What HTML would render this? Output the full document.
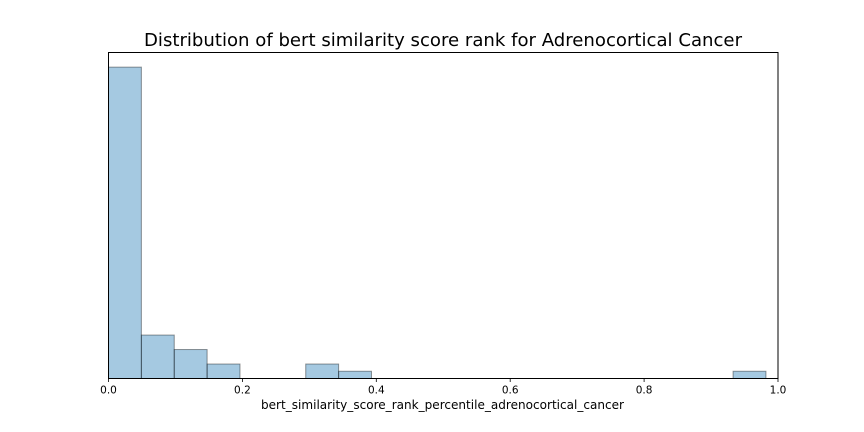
<!DOCTYPE html>
<html>
<head>
<meta charset="utf-8">
<style>
html,body{margin:0;padding:0;background:#fff;width:864px;height:432px;overflow:hidden}
svg{display:block;font-family:"DejaVu Sans",sans-serif}
</style>
</head>
<body>
<svg id="chart" width="864" height="432" viewBox="0 0 864 432" xmlns="http://www.w3.org/2000/svg">
<rect width="864" height="432" fill="#fff"/>
<text x="144" y="46" font-size="18" textLength="598" lengthAdjust="spacingAndGlyphs" fill="#000">Distribution of bert similarity score rank for Adrenocortical Cancer</text>
<g id="bars"></g>
<g id="ticks"></g>
<rect x="108.5" y="52.5" width="669.5" height="326" fill="none" stroke="#000" stroke-width="1"/>
<text x="261" y="409" font-size="12" textLength="363" lengthAdjust="spacingAndGlyphs" fill="#000">bert_similarity_score_rank_percentile_adrenocortical_cancer</text>
</svg>
<script>
const binCounts = [43, 6, 4, 2, 0, 0, 2, 1, 0, 0, 0, 0, 0, 0, 0, 0, 0, 0, 0, 1];
const binWidth = 0.0491;
const tickValues = [0, 0.2, 0.4, 0.6, 0.8, 1];
const tickLabels = ['0.0', '0.2', '0.4', '0.6', '0.8', '1.0'];

const NS = 'http://www.w3.org/2000/svg';
const plot = { left: 108.5, right: 778, top: 52.5, bottom: 378.5 };
const yMax = Math.max(...binCounts) * 1.047;

function xScale(v) {
  return plot.left + v * (plot.right - plot.left);
}
function yScale(v) {
  return plot.bottom - (v / yMax) * (plot.bottom - plot.top);
}

const barsGroup = document.getElementById('bars');
binCounts.forEach(function (count, i) {
  if (count === 0) return;
  const x0 = xScale(i * binWidth);
  const x1 = xScale((i + 1) * binWidth);
  const y = yScale(count);
  const bar = document.createElementNS(NS, 'rect');
  bar.setAttribute('x', x0);
  bar.setAttribute('y', y);
  bar.setAttribute('width', x1 - x0);
  bar.setAttribute('height', plot.bottom - y);
  bar.setAttribute('fill', 'rgba(31,119,180,0.4)');
  bar.setAttribute('stroke', 'rgba(0,0,0,0.4)');
  bar.setAttribute('stroke-width', '1');
  
  
  barsGroup.appendChild(bar);
});

const ticksGroup = document.getElementById('ticks');
tickValues.forEach(function (v, i) {
  const x = xScale(v);
  const tick = document.createElementNS(NS, 'line');
  tick.setAttribute('x1', x);
  tick.setAttribute('x2', x);
  tick.setAttribute('y1', plot.bottom);
  tick.setAttribute('y2', plot.bottom + 3.5);
  tick.setAttribute('stroke', '#000');
  tick.setAttribute('stroke-width', '0.8');
  
  
  ticksGroup.appendChild(tick);
  const label = document.createElementNS(NS, 'text');
  label.setAttribute('x', x);
  label.setAttribute('y', plot.bottom + 15);
  label.setAttribute('font-size', '10.5');
  label.setAttribute('text-anchor', 'middle');
  label.setAttribute('fill', '#000');
  
  
  label.textContent = tickLabels[i];
  ticksGroup.appendChild(label);
});
</script>
</body>
</html>
